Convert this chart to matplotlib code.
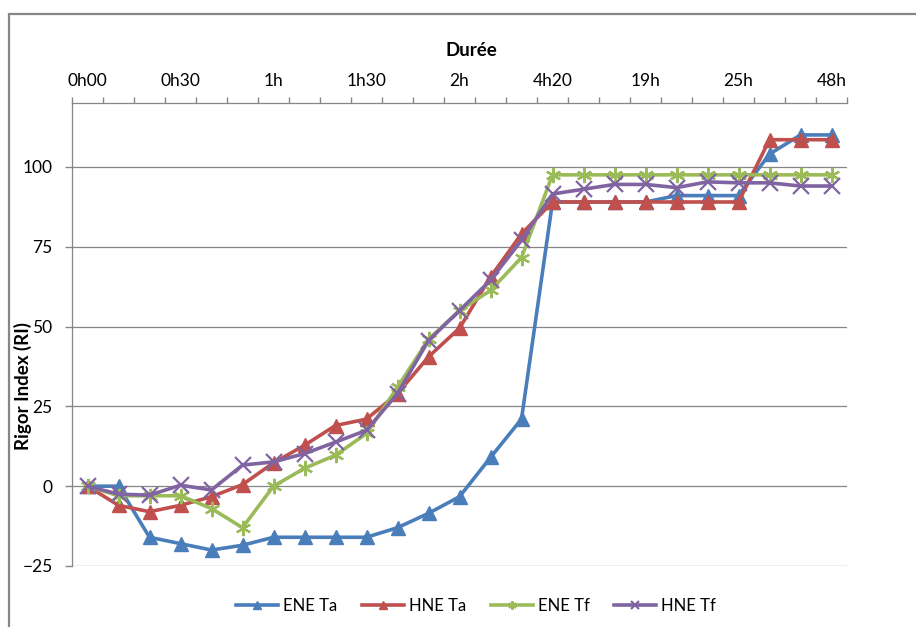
import numpy as np
import matplotlib
matplotlib.use('Agg')
import matplotlib.pyplot as plt
from matplotlib.patches import Rectangle

plt.rcParams['font.family'] = ['Lato', 'DejaVu Sans']

# 25 sampling points, only every third one is labelled on the axis
tick_labels = ['0h00', '0h30', '1h', '1h30', '2h', '4h20', '19h', '25h', '48h']
n_points = 25

ene_ta = [0, 0, -16, -18, -20, -18.5, -16, -16, -16, -16, -13, -8.5, -3.3, 9, 21,
          89, 89, 89, 89, 91, 91, 91, 104, 110, 110]
hne_ta = [0, -6, -8, -6, -3.3, 0.5, 7.3, 12.8, 19, 21, 29, 40.5, 49.5, 65.5, 79,
          89, 89, 89, 89, 89, 89, 89, 108.5, 108.5, 108.5]
ene_tf = [0, -3, -3, -3, -7, -13, 0, 5.6, 9.7, 16.5, 31, 46, 55, 61.3, 71.6,
          97.5, 97.5, 97.5, 97.5, 97.5, 97.5, 97.5, 97.5, 97.5, 97.5]
hne_tf = [0, -2.5, -2.8, 0.3, -1.2, 6.6, 7.6, 10.2, 13.8, 17.5, 29, 45.6, 55, 64.5, 77,
          91.5, 93, 94.5, 94.5, 93.5, 95.3, 95, 95, 94, 94]

series = [
    ('ENE Ta', ene_ta, '#4A7EBB', '^'),
    ('HNE Ta', hne_ta, '#C0504D', '^'),
    ('ENE Tf', ene_tf, '#9BBB59', (6, 2, 0)),
    ('HNE Tf', hne_tf, '#8064A2', 'x'),
]

W, H = 916, 627
fig = plt.figure(figsize=(W / 100, H / 100), dpi=100)
ax = fig.add_axes([72 / W, 1 - 566 / H, (847 - 72) / W, (566 - 103) / H])

grey = '#868686'
x = np.arange(n_points)

for name, vals, col, mk in series:
    if mk == '^':
        ax.plot(x, vals, color=col, lw=2.6, marker=mk, markersize=10.5,
                markeredgecolor=col, label=name, zorder=3)
    else:
        ax.plot(x, vals, color=col, lw=2.6, marker=mk, markersize=11,
                markeredgewidth=1.6, markeredgecolor=col, label=name, zorder=3)

ax.set_xlim(-0.5, n_points - 0.5)
ax.set_ylim(-25, 120)

# category axis on top, ticks between categories
ax.xaxis.tick_top()
ax.set_xticks(np.arange(-0.5, n_points, 1.0))
ax.set_xticklabels([])
ax.set_xticks(np.arange(0, n_points, 3), minor=True)
ax.set_xticklabels(tick_labels, minor=True)
ax.tick_params(axis='x', which='major', direction='out', length=4, color=grey, width=1)
ax.tick_params(axis='x', which='minor', length=0, pad=10, labelsize=12.5)

ax.set_yticks([-25, 0, 25, 50, 75, 100])
ax.tick_params(axis='y', direction='out', length=5, color=grey, width=1,
               pad=9, labelsize=12.5)

ax.grid(axis='y', color=grey, lw=0.9)
ax.set_axisbelow(True)

for s in ['bottom', 'right']:
    ax.spines[s].set_visible(False)
for s in ['top', 'left']:
    ax.spines[s].set_color(grey)
    ax.spines[s].set_linewidth(0.9)

fig.text(471 / W, 1 - 50 / H, 'Durée', ha='center', va='center',
         fontsize=13.5, fontweight='bold')
fig.text(23 / W, 1 - 386 / H, 'Rigor Index (RI)', ha='center', va='center',
         rotation=90, fontsize=13.5, fontweight='bold')

fig.legend(loc='center', bbox_to_anchor=(476 / W, 1 - 606 / H), ncol=4,
           frameon=False, fontsize=12, handlelength=2.5, handletextpad=0.3,
           columnspacing=1.5, markerscale=0.55)

# chart frame
fig.add_artist(Rectangle((9 / W, -0.1), 1.2, 1 - 14 / H + 0.1,
                         transform=fig.transFigure, fill=False,
                         edgecolor=grey, lw=1.6))

fig.savefig('out.png', dpi=100)
